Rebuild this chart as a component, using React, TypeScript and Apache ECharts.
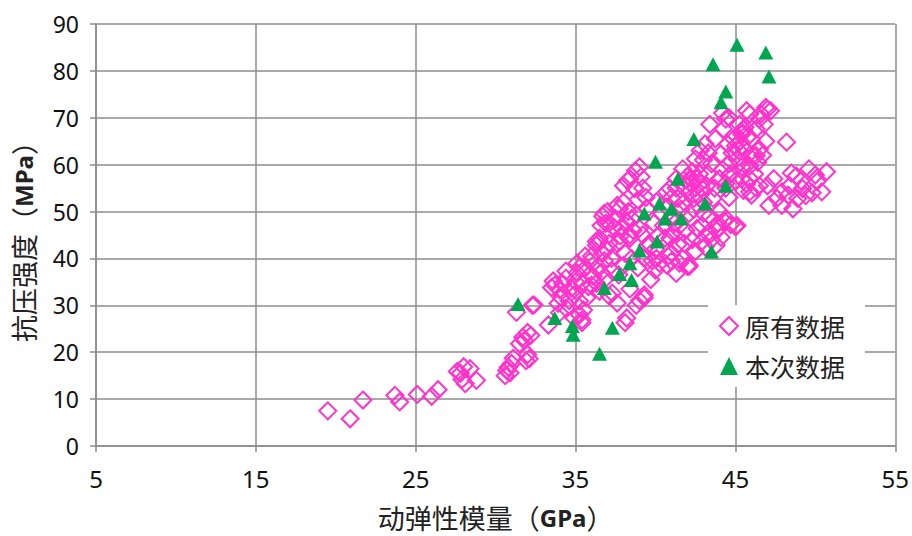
import React, { useEffect, useRef } from "react";
import * as echarts from "echarts";

const xAxisName = "动弹性模量";
const xAxisUnit = "GPa";
const yAxisName = "抗压强度";
const yAxisUnit = "MPa";
const seriesNames = ["原有数据", "本次数据"];

// 原有数据: [动弹性模量 GPa, 抗压强度 MPa]
const originalData: [number, number][] = [
  [19.5, 7.5], [20.9, 5.8], [21.7, 9.8], [23.7, 10.8], [24.0, 9.4], [25.1, 11.0], [26.0, 10.6], [26.4, 12.0],
  [27.8, 15.5], [27.9, 14.2], [28.1, 13.3], [28.4, 16.5], [28.8, 14.0], [27.6, 15.9], [28.0, 16.9],
  [30.6, 15.0], [30.8, 16.8], [31.1, 18.7], [30.7, 16.1], [31.9, 18.2], [31.7, 23.2], [31.5, 21.8],
  [32.0, 24.2], [32.1, 18.6], [31.3, 28.5], [32.4, 30.1], [33.3, 25.8], [31.0, 17.6], [30.9, 15.6],
  [32.0, 19.5], [31.8, 22.5], [32.2, 23.6],
  [33.6, 35.2], [34.0, 33.3], [34.1, 31.6], [34.4, 35.8], [34.4, 29.4], [34.75, 33.7], [34.9, 32.2],
  [35.1, 36.9], [35.25, 30.9], [35.4, 34.7], [35.6, 37.9], [35.9, 39.4], [36.1, 36.2], [36.4, 38.3],
  [34.0, 28.4], [34.9, 27.3], [35.7, 31.6], [36.3, 34.7], [35.4, 26.9], [33.9, 30.4], [34.6, 31.0],
  [35.0, 35.0], [35.8, 34.0], [36.0, 40.5], [33.5, 33.8], [34.2, 34.6], [35.3, 38.2], [35.5, 29.0],
  [36.6, 37.0], [36.8, 39.5],
  [32.3, 30.0], [33.7, 34.3], [34.4, 37.3], [35.1, 39.0], [35.6, 40.5], [36.3, 42.8], [36.5, 43.6],
  [35.25, 28.0], [35.4, 26.3], [38.2, 27.3], [38.8, 30.0], [39.3, 32.2], [37.6, 30.5], [37.1, 32.0],
  [36.5, 33.0], [36.0, 34.3], [36.9, 35.8], [37.3, 37.3],
  [36.5, 44.3], [36.7, 41.1], [36.8, 49.6], [36.9, 47.5], [37.1, 43.2], [37.25, 40.0], [37.3, 32.6],
  [37.4, 46.6], [37.6, 43.2], [37.75, 50.6], [37.9, 46.4], [38.1, 26.3], [38.1, 41.1], [38.25, 56.6],
  [38.4, 44.3], [38.5, 48.5], [38.7, 54.9], [38.75, 58.7], [38.9, 52.5], [39.0, 46.4], [39.1, 57.4],
  [39.3, 31.6], [39.3, 40.0], [39.5, 50.6], [39.6, 43.2], [39.9, 47.5], [37.0, 50.0], [36.6, 47.0],
  [37.5, 48.5], [38.0, 52.0], [38.3, 50.0], [37.8, 44.8], [38.6, 46.0], [39.2, 55.0], [39.4, 53.0],
  [38.0, 38.5], [38.5, 40.0], [37.7, 36.5], [38.9, 38.0], [39.8, 39.5], [39.0, 31.0], [38.4, 33.5],
  [39.7, 35.5], [40.0, 37.5], [39.0, 59.5], [38.4, 57.0], [38.0, 55.5], [38.7, 55.0], [37.6, 51.3],
  [36.7, 49.0], [37.1, 47.5], [38.2, 47.9], [38.8, 49.2], [36.3, 43.6], [36.9, 42.0], [37.75, 43.6],
  [38.4, 45.0], [39.2, 45.0], [39.5, 42.8], [40.06, 40.0], [40.7, 38.6], [41.7, 40.0], [42.1, 38.3],
  [41.5, 47.0], [40.9, 44.3], [41.1, 49.2], [40.06, 52.1], [40.7, 54.2], [41.3, 57.0],
  [40.25, 39.0], [40.4, 49.6], [40.6, 44.3], [40.9, 54.9], [41.0, 41.1], [41.2, 47.5], [41.4, 52.8],
  [41.5, 39.0], [41.7, 59.1], [41.8, 43.2], [42.0, 38.3], [42.1, 49.6], [42.25, 57.0], [42.4, 52.8],
  [42.5, 61.2], [42.6, 46.4], [42.75, 58.0], [42.9, 54.9], [43.0, 49.6], [43.1, 64.4], [43.25, 45.3],
  [43.4, 68.6], [43.5, 60.2], [43.6, 52.8], [43.75, 65.5], [43.9, 47.5], [44.0, 57.0], [44.1, 62.3],
  [41.9, 55.5], [42.0, 57.5], [42.2, 56.0], [42.3, 58.5], [42.5, 55.0], [42.6, 57.0], [42.8, 56.0],
  [42.1, 54.0], [41.8, 52.0], [42.4, 50.5], [42.7, 53.5], [43.0, 52.0], [43.2, 55.5], [43.3, 58.0],
  [41.6, 50.5], [41.3, 55.0], [41.0, 53.0], [40.7, 51.0], [40.5, 47.0], [40.2, 45.0], [40.0, 42.0],
  [41.1, 45.5], [41.4, 43.0], [41.9, 46.0], [42.3, 44.0], [42.9, 47.0], [43.4, 49.0], [43.5, 44.0],
  [43.8, 46.0], [44.0, 50.0], [43.7, 55.0], [43.0, 61.0], [43.3, 62.5], [42.8, 63.0], [44.2, 59.0],
  [44.4, 56.0], [44.3, 48.0], [44.6, 53.0], [40.8, 40.5], [41.3, 36.8], [42.5, 41.5], [43.1, 42.5],
  [44.1, 44.5], [45.0, 46.8], [44.7, 47.2], [41.0, 39.4], [42.1, 38.6], [43.8, 42.8], [45.1, 47.0],
  [42.9, 43.6],
  [44.25, 67.6], [44.4, 69.7], [44.5, 64.4], [44.6, 60.2], [44.9, 65.5], [45.1, 61.2], [45.25, 68.6],
  [45.4, 66.5], [45.6, 63.3], [45.7, 55.9], [45.9, 70.8], [46.0, 65.5], [46.2, 58.0], [46.3, 67.6],
  [46.5, 63.3], [46.6, 70.8], [46.8, 68.6], [47.0, 71.8], [45.0, 64.0], [45.3, 65.0], [45.5, 67.5],
  [45.2, 63.0], [45.8, 66.0], [45.6, 68.0], [46.1, 62.0], [44.8, 62.5], [44.7, 58.0], [45.4, 59.5],
  [46.4, 60.5], [46.7, 62.0], [45.9, 57.0], [46.9, 65.0], [44.2, 71.0], [45.7, 71.5], [47.2, 71.5],
  [44.6, 70.0], [45.0, 56.5], [46.3, 55.0], [45.5, 54.5], [46.0, 53.5], [45.4, 67.0], [45.4, 64.0],
  [46.3, 61.9], [45.9, 59.7], [45.3, 60.5], [45.4, 57.0], [45.9, 54.2], [44.6, 57.6], [44.4, 55.0],
  [46.5, 55.5], [46.9, 72.2], [46.5, 69.7],
  [47.1, 51.3], [47.6, 52.8], [47.9, 54.2], [48.4, 55.5], [48.8, 57.6], [48.6, 50.6], [49.2, 54.9],
  [49.6, 59.1], [50.1, 56.4], [50.4, 54.2], [50.7, 58.5], [49.4, 53.4], [48.9, 52.8], [47.9, 51.3],
  [49.1, 56.5], [48.2, 64.8], [47.4, 57.0], [47.0, 55.5], [48.5, 58.2], [50.0, 57.8], [49.8, 54.0],
  [48.3, 53.5], [44.0, 46.5], [44.4, 48.5]
];

// 本次数据: [动弹性模量 GPa, 抗压强度 MPa]
const newData: [number, number][] = [
  [31.4, 30.3], [33.7, 27.3], [34.8, 25.6], [34.85, 23.7], [36.5, 19.7], [36.8, 33.7], [37.3, 25.2],
  [37.75, 36.7], [38.4, 39.0], [38.5, 35.4], [39.0, 41.7], [39.3, 49.6], [40.0, 60.6], [40.1, 43.6],
  [40.25, 51.7], [40.6, 48.5], [41.0, 50.6], [41.4, 57.0], [41.6, 48.5], [42.4, 65.5], [43.1, 51.7],
  [43.5, 41.5], [43.6, 81.4], [44.1, 73.3], [44.4, 75.6], [44.4, 55.5], [45.1, 85.6], [46.9, 83.9],
  [47.1, 78.8]
];

const xMin = 5;
const xMax = 55;
const xInterval = 10;
const yMin = 0;
const yMax = 90;
const yInterval = 10;

const PINK = "#FF33CC";
const GREEN = "#00A650";
const GRID_GRAY = "#8C8C8C";
const CJK = "'Noto Sans CJK SC', 'Noto Sans', sans-serif";
const LATIN = "'Noto Sans', 'Open Sans', sans-serif";

export default function App() {
  const ref = useRef<HTMLDivElement>(null);

  useEffect(() => {
    if (!ref.current) return;
    const chart = echarts.init(ref.current, null, { renderer: "svg" });
    const nameRich = {
      a: { fontFamily: CJK, fontSize: 27, color: "#222" },
      b: { fontFamily: LATIN, fontSize: 24, fontWeight: "bold" as const, color: "#222" },
    };
    chart.setOption({
      animation: false,
      backgroundColor: "#ffffff",
      grid: { left: 96, right: 16, top: 24, bottom: 87, containLabel: false },
      xAxis: {
        type: "value",
        min: xMin,
        max: xMax,
        interval: xInterval,
        name: `{a|${xAxisName}（}{b|${xAxisUnit}}{a|）}`,
        nameLocation: "middle",
        nameGap: 58,
        nameTextStyle: { rich: nameRich },
        axisLine: { show: true, lineStyle: { color: GRID_GRAY, width: 1.5 } },
        axisTick: { show: true, length: 6, inside: false, lineStyle: { color: GRID_GRAY, width: 1.5 } },
        axisLabel: { margin: 20, fontFamily: LATIN, fontSize: 24, color: "#111" },
        splitLine: { show: true, lineStyle: { color: GRID_GRAY, width: 1.5 } },
      },
      yAxis: {
        type: "value",
        min: yMin,
        max: yMax,
        interval: yInterval,
        name: `{a|${yAxisName}（}{b|${yAxisUnit}}{a|）}`,
        nameLocation: "middle",
        nameGap: 59,
        nameTextStyle: { rich: nameRich },
        axisLine: { show: true, lineStyle: { color: GRID_GRAY, width: 1.5 } },
        axisTick: { show: true, length: 6, inside: false, lineStyle: { color: GRID_GRAY, width: 1.5 } },
        axisLabel: { margin: 17, fontFamily: LATIN, fontSize: 23, color: "#111" },
        splitLine: { show: true, lineStyle: { color: GRID_GRAY, width: 1.5 } },
      },
      legend: {
        show: true,
        orient: "vertical",
        left: 708,
        top: 305,
        padding: [8, 20, 8, 11],
        backgroundColor: "#ffffff",
        itemWidth: 18,
        itemHeight: 18,
        itemGap: 14,
        textStyle: { fontFamily: CJK, fontSize: 25, lineHeight: 26, color: "#222", padding: [0, 0, 0, 2] },
        data: seriesNames,
      },
      series: [
        {
          name: seriesNames[0],
          type: "scatter",
          data: originalData,
          symbol: "diamond",
          symbolSize: 17,
          itemStyle: { color: "rgba(255,255,255,0)", borderColor: PINK, borderWidth: 2, opacity: 1 },
          emphasis: { disabled: true },
          z: 2,
        },
        {
          name: seriesNames[1],
          type: "scatter",
          data: newData,
          symbol: "triangle",
          symbolSize: [15, 14],
          itemStyle: { color: GREEN, opacity: 1 },
          emphasis: { disabled: true },
          z: 3,
        },
      ],
    });
    return () => chart.dispose();
  }, []);

  return (
    <div
      ref={ref}
      style={{ position: "fixed", left: 0, top: 0, width: 912, height: 536, background: "#fff" }}
    />
  );
}
